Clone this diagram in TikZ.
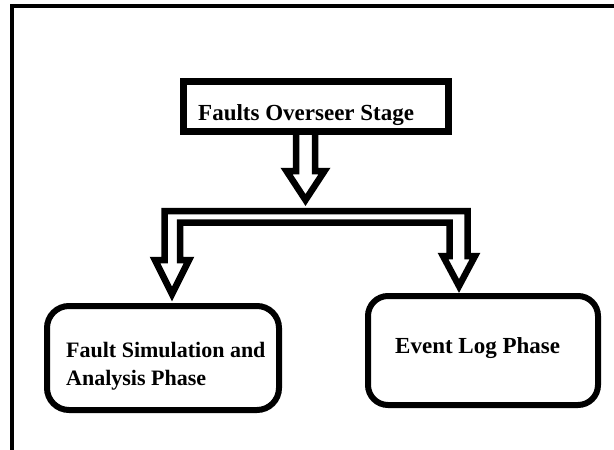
\documentclass[tikz,border=0pt]{standalone}
\usepackage{fontspec}
\setmainfont{Liberation Serif}
\usetikzlibrary{calc}
\tikzset{
  stage/.style={draw=black,line width=7pt,inner sep=0pt},
  phase/.style={draw=black,line width=6pt,rounded corners=22pt,inner sep=0pt},
  txt/.style={font=\bfseries\fontsize{23}{28}\selectfont,inner sep=0pt,anchor=base west,align=left},
  harrow/.style={draw=black,line width=6.5pt,line join=miter},
  frame/.style={black,line width=4pt},
}
\newcommand{\hollowdown}[2]{% from node, tip
  \draw[harrow] ($(#2 |- #1)+(-9.5,0)$) -- ($(#2)+(-9.5,-29)$) -- ($(#2)+(-19,-29)$) -- (#2)
    -- ($(#2)+(19,-29)$) -- ($(#2)+(9.5,-29)$) -- ($(#2 |- #1)+(9.5,0)$);
}

\begin{document}
\begin{tikzpicture}[x=1pt,y=-1pt]
  \fill[white] (0,0) rectangle (614,450);
  \useasboundingbox (0,0) rectangle (614,450);
  \draw[frame] (12,450) -- (12,5.5) -- (614,5.5);

  \node[stage,minimum width=265pt,minimum height=50pt] (stage) at (316,106.5) {};
  \node[txt] (stagetxt) at (198,120) {Faults Overseer Stage};

  \node[phase,minimum width=232pt,minimum height=104pt] (sim) at (163,358) {};
  \node[txt,font=\bfseries\fontsize{22}{28}\selectfont] (simtxt) at (66,385) {Fault Simulation and\\Analysis Phase};

  \node[phase,minimum width=230pt,minimum height=109pt,rounded corners=20pt] (evt) at (483,350.5) {};
  \node[txt] (evttxt) at (395,353) {Event Log Phase};

  \coordinate (split) at (305.5,200);
  \coordinate (simin) at (172,294);
  \coordinate (evtin) at (459,286);

  \hollowdown{stage.south}{split}
  % split bar with both heads
  \draw[harrow] (simin) -- ($(simin)+(-17,-34)$) -- (164.5,260) -- (164.5,211) -- (467.5,211)
    -- (467.5,256) -- ($(evtin)+(16,-30)$) -- (evtin) -- ($(evtin)+(-16,-30)$) -- (449.5,256)
    -- (449.5,222.5) -- (180,222.5) -- (180,260) -- ($(simin)+(17,-34)$) -- cycle;
\end{tikzpicture}
\end{document}
